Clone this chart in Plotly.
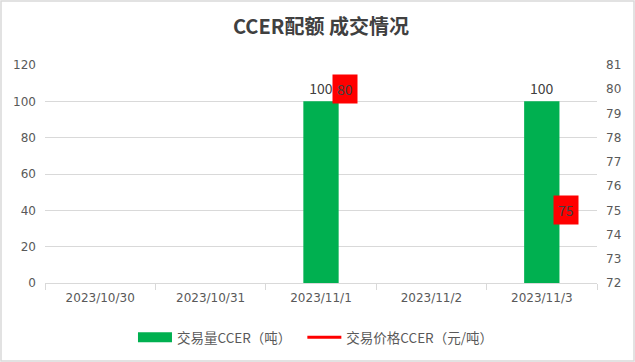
import plotly.graph_objects as go

# Trading data per day
dates = ["2023/10/30", "2023/10/31", "2023/11/1", "2023/11/2", "2023/11/3"]
volume = [None, None, 100, None, 100]          # 交易量CCER（吨）
price = [None, None, 80, None, 75]             # 交易价格CCER（元/吨）
left_ticks = [0, 20, 40, 60, 80, 100, 120]
right_ticks = [72, 73, 74, 75, 76, 77, 78, 79, 80, 81]

FONT = "Noto Sans CJK SC"
TICKFONT = "DejaVu Sans"
TEXT = "#595959"
GRID = "#d9d9d9"
GREEN = "#00b050"
RED = "#ff0000"

fig = go.Figure()

fig.add_trace(go.Bar(
    x=dates, y=volume, name="交易量CCER（吨）", showlegend=False,
    marker=dict(color=GREEN, line=dict(width=0)),
    text=[("" if v is None else str(v)) for v in volume],
    textposition="outside", cliponaxis=False,
    textfont=dict(family=FONT, size=14, color="#404040"),
))

# Legend entry for the bars, drawn as a wide flat swatch
fig.add_trace(go.Scatter(
    x=[None], y=[None], name="交易量CCER（吨）  ", mode="lines",
    line=dict(color=GREEN, width=10),
))

fig.add_trace(go.Scatter(
    x=dates, y=price, name="交易价格CCER（元/吨）", yaxis="y2",
    mode="lines", line=dict(color=RED, width=3),
    connectgaps=False,
))

# Red value boxes beside each price point
for d, p in zip(dates, price):
    if p is None:
        continue
    fig.add_annotation(
        x=d, y=p, xref="x", yref="y2", text=str(p), showarrow=False,
        xshift=24, bgcolor=RED, borderpad=4,
        font=dict(family=FONT, size=14, color="#404040"),
    )

# Outer chart border
fig.add_shape(type="rect", xref="paper", yref="paper",
              x0=-44 / 552, x1=1 + 37 / 552, y0=-78 / 218, y1=1 + 64 / 218,
              line=dict(color=GRID, width=1.5), layer="below")

fig.update_layout(
    width=635, height=362,
    margin=dict(l=45, r=38, t=65, b=79, autoexpand=False),
    paper_bgcolor="white", plot_bgcolor="white",
    font=dict(family=FONT, size=12, color=TEXT),
    title=dict(text="<b>CCER配额 成交情况</b>", x=0.5, xref="paper", xanchor="center",
               y=1 - 27 / 362, yanchor="middle",
               font=dict(family=FONT, size=20, color="#404040")),
    bargap=0.68,
    showlegend=True,
    legend=dict(orientation="h", x=0.49, xanchor="center", xref="paper",
                y=-0.25, yanchor="middle", itemwidth=34,
                font=dict(family=FONT, size=13.5, color=TEXT)),
    xaxis=dict(type="category", categoryorder="array", categoryarray=dates,
               showline=True, linecolor=GRID, linewidth=1, automargin=False,
               ticks="outside", tickson="boundaries", ticklen=6, tickcolor=GRID,
               ticklabelstandoff=4,
               showgrid=False, tickfont=dict(family=TICKFONT, size=12, color=TEXT)),
    yaxis=dict(range=[0, 120], tickvals=left_ticks, showgrid=True, gridcolor=GRID,
               zeroline=False, showline=False, ticks="", ticklabelstandoff=8,
               automargin=False,
               tickfont=dict(family=TICKFONT, size=12, color=TEXT)),
    yaxis2=dict(range=[72, 81], tickvals=right_ticks, overlaying="y", side="right",
                showgrid=False, zeroline=False, showline=False, ticks="",
                ticklabelstandoff=8, automargin=False,
                tickfont=dict(family=TICKFONT, size=12, color=TEXT)),
)

fig.write_html("out.html")
